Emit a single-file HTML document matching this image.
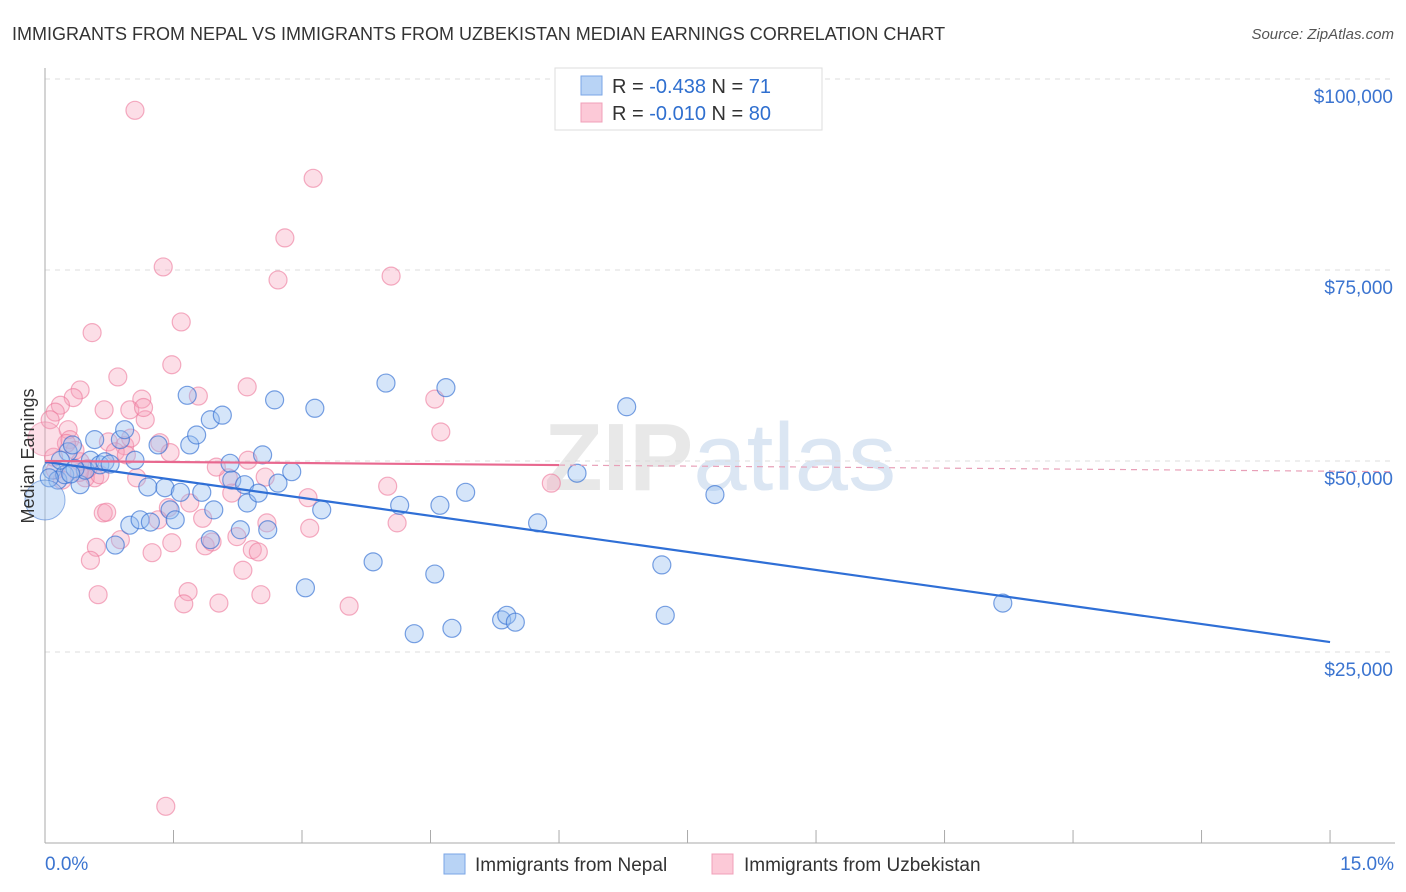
<!DOCTYPE html>
<html><head><meta charset="utf-8"><style>
body{margin:0;background:#fff;font-family:"Liberation Sans",sans-serif;}
</style></head><body>
<svg id="chart" width="1406" height="892" xmlns="http://www.w3.org/2000/svg" style="display:block">
<text x="12" y="40" font-size="18" fill="#333">IMMIGRANTS FROM NEPAL VS IMMIGRANTS FROM UZBEKISTAN MEDIAN EARNINGS CORRELATION CHART</text>
<text x="1394" y="39" font-size="15" fill="#555" font-style="italic" text-anchor="end">Source: ZipAtlas.com</text>
<text x="720" y="490" font-size="96" fill="#e8e8e8" text-anchor="middle" font-weight="bold">ZIP<tspan fill="#dbe6f3" font-weight="normal">atlas</tspan></text>
<g id="grid"></g>
<g id="axes"></g>
<g id="pts"></g>
<g id="lines"></g>
<text transform="translate(34,456) rotate(-90)" font-size="18" fill="#333" text-anchor="middle">Median Earnings</text>
<g>
<rect x="555" y="68" width="267" height="62" fill="#fff" stroke="#ddd"/>
<rect x="581" y="76" width="21" height="19" fill="#b8d3f5" stroke="#7aa6e6"/>
<rect x="581" y="103" width="21" height="19" fill="#fcc9d7" stroke="#f0a0b8"/>
<text x="612" y="93" font-size="20" fill="#333">R = <tspan fill="#2f6fcf">-0.438</tspan>   N =  <tspan fill="#2f6fcf">71</tspan></text>
<text x="612" y="120" font-size="20" fill="#333">R = <tspan fill="#2f6fcf">-0.010</tspan>   N = <tspan fill="#2f6fcf">80</tspan></text>
</g>
<g>
<rect x="444" y="854" width="21" height="20" fill="#b8d3f5" stroke="#7aa6e6"/>
<text x="475" y="871" font-size="19" fill="#333">Immigrants from Nepal</text>
<rect x="712" y="854" width="21" height="20" fill="#fcc9d7" stroke="#f0a0b8"/>
<text x="744" y="871" font-size="19" fill="#333">Immigrants from Uzbekistan</text>
</g>
</svg>
<script>
const yTicks=[25000,50000,75000,100000];
const yTickLabels=["$25,000","$50,000","$75,000","$100,000"];
const xTickLabels=["0.0%","15.0%"];
const nepalX=[0.08,0.15,0.27,0.23,0.32,0.41,0.47,0.58,0.53,0.64,0.70,0.82,0.88,0.93,0.99,1.05,1.11,1.20,1.23,1.32,1.40,1.46,1.52,1.58,1.69,1.66,1.77,1.83,1.93,1.97,2.07,1.93,2.16,2.18,2.28,2.33,2.36,2.49,2.54,2.60,2.68,2.72,2.88,3.04,3.15,3.23,3.83,3.98,4.14,4.31,4.55,4.61,4.68,4.75,4.91,5.33,5.39,5.49,5.75,6.21,6.79,7.20,7.24,7.82,11.18,0.18,0.35,0.76,0.05,0.30];
const nepalY=[48800,47500,51200,48200,52100,46900,48800,52800,50100,49500,49900,39000,52800,54100,41600,50100,42300,46600,42000,52100,46500,43600,42300,45900,52100,58600,53400,45900,55400,43600,56000,39700,49700,47500,41000,46900,44500,45800,50800,41000,58000,47100,48600,33400,56900,43600,36800,60200,44200,27400,35200,44200,59600,28100,45900,29200,29800,28900,41900,48400,57100,36400,29800,45600,31400,50100,49000,49600,47800,48300];
const uzbX=[1.05,3.13,2.80,1.38,4.04,2.72,1.59,0.55,1.48,0.85,0.41,2.36,1.79,1.13,4.55,0.33,0.18,0.12,0.69,0.99,1.17,4.62,0.27,0.29,0.74,0.93,1.34,1.46,0.82,0.41,0.58,0.47,2.37,1.07,2.14,2.57,2.18,4.00,5.91,3.07,1.69,1.44,0.68,0.72,1.84,2.59,3.09,4.11,1.32,2.24,0.88,0.60,1.48,1.87,1.95,1.25,2.42,2.49,0.53,2.31,1.67,0.62,2.52,2.03,1.62,3.55,1.41,0.06,0.12,0.20,0.35,0.64,0.95,1.15,0.50,0.25,1.00,0.10,0.40,2.00];
const uzbY=[95900,87000,79200,75400,74200,73700,68200,66800,62600,61000,59300,59700,58500,58100,58100,58300,57300,56400,56700,56700,55400,53800,54100,52800,52500,52000,52400,51100,51200,49900,47800,47800,50100,47800,47800,47900,45800,46700,47100,45200,44500,43900,43200,43300,42500,41900,41200,41900,42300,40100,39700,38700,39300,38900,39400,38000,38400,38100,37000,35700,32900,32500,32500,31400,31300,31000,4800,55400,48800,47500,51400,48200,50800,57000,49000,52300,53000,50500,48500,49200];
const nepalLine=[49900,26300];
const uzbLine=[50000,48600];
const NS="http://www.w3.org/2000/svg";
const X0=45,X1=1395,Y0=843;
const xs=v=>X0+v*85.67;
const ys=v=>Y0-v/25000*191;
function mk(tag,attrs,parent){const e=document.createElementNS(NS,tag);for(const k in attrs)e.setAttribute(k,attrs[k]);document.getElementById(parent).appendChild(e);return e;}
yTicks.forEach((t,i)=>{
 const g=mk('line',{x1:X0,x2:X1,y1:ys(t),y2:ys(t),stroke:'#ddd','stroke-dasharray':'5,5'},'grid');
 
 
 const l=mk('text',{x:1393,y:ys(t)+24,'font-size':19,fill:'#3b74d0','text-anchor':'end'},'axes');
 l.textContent=yTickLabels[i];
 
 
});
mk('line',{x1:X0,x2:X0,y1:68,y2:Y0,stroke:'#aaa'},'axes');
mk('line',{x1:X0,x2:X1,y1:Y0,y2:Y0,stroke:'#aaa'},'axes');
for(let i=0;i<=10;i++){const t=mk('line',{x1:xs(i*1.5),x2:xs(i*1.5),y1:830,y2:Y0,stroke:'#aaa'},'axes');
 
 }
const xl0=mk('text',{x:45,y:870,'font-size':19,fill:'#3b74d0'},'axes');xl0.textContent=xTickLabels[0];


const xl1=mk('text',{x:1394,y:870,'font-size':19,fill:'#3b74d0','text-anchor':'end'},'axes');xl1.textContent=xTickLabels[1];


uzbX.forEach((x,i)=>{const c=mk('circle',{cx:xs(x),cy:ys(uzbY[i]),r:9,fill:'rgba(246,160,185,0.35)',stroke:'rgba(236,120,155,0.6)','stroke-width':1.2},'pts');
 
 });
nepalX.forEach((x,i)=>{const c=mk('circle',{cx:xs(x),cy:ys(nepalY[i]),r:9,fill:'rgba(150,190,240,0.4)',stroke:'rgba(50,110,210,0.65)','stroke-width':1.2},'pts');
 
 });
const b1=mk('circle',{cx:xs(0),cy:ys(52900),r:17,fill:'rgba(246,160,185,0.35)',stroke:'rgba(236,120,155,0.5)'},'pts');


const b2=mk('circle',{cx:xs(0),cy:ys(44900),r:20,fill:'rgba(150,190,240,0.4)',stroke:'rgba(50,110,210,0.5)'},'pts');


const nl=mk('line',{x1:xs(0),y1:ys(nepalLine[0]),x2:xs(15),y2:ys(nepalLine[1]),stroke:'#2f6fd6','stroke-width':2.2},'lines');


const uy=x=>uzbLine[0]+(uzbLine[1]-uzbLine[0])*x/15.75;
const ul=mk('line',{x1:xs(0),y1:ys(uy(0)),x2:xs(6),y2:ys(uy(6)),stroke:'#e8688f','stroke-width':2.2},'lines');


const ud=mk('line',{x1:xs(6),y1:ys(uy(6)),x2:xs(15.75),y2:ys(uy(15.75)),stroke:'#e8a0b8','stroke-width':1.2,'stroke-dasharray':'6,5'},'lines');


</script>
</body></html>
